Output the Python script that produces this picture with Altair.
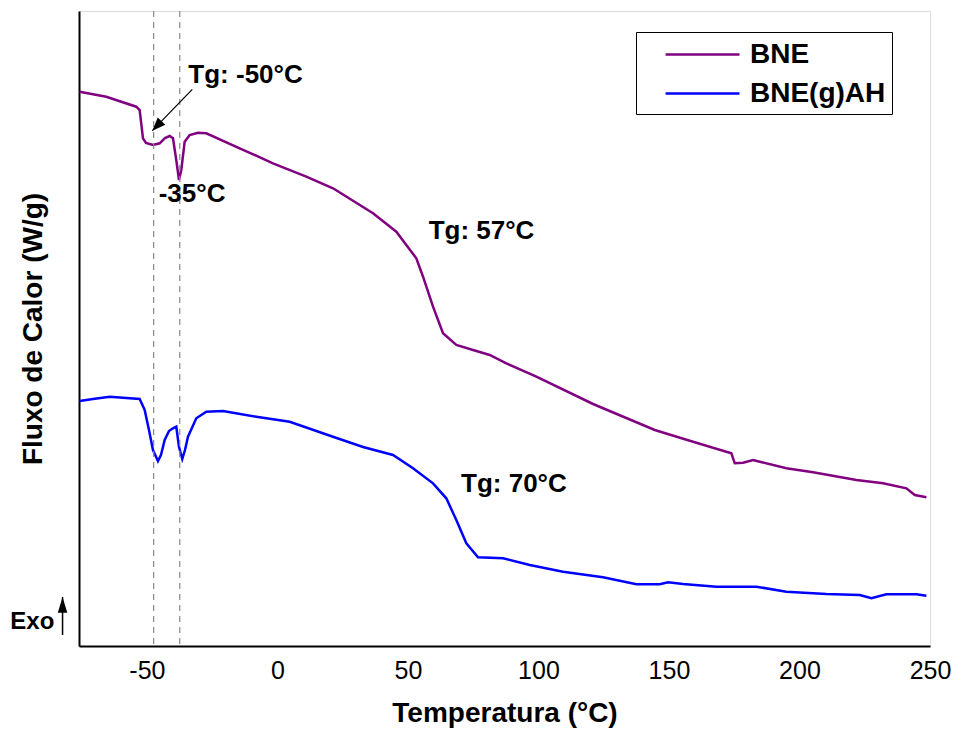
import altair as alt
import pandas as pd

FONT = "Liberation Sans"

# ---- data ----
bne_t = [-75.75, -65.56, -54.06, -52.76, -51.49, -50.34, -47.66, -45.10, -43.07, -41.26,
         -40.00, -38.74, -37.70, -36.82, -35.52, -33.60, -30.42, -27.24, -14.44, -1.69,
         11.07, 21.30, 36.63, 45.56, 53.22, 55.79, 59.62, 63.45, 68.54, 74.94,
         81.34, 87.70, 99.20, 120.92, 144.56, 159.23, 173.91, 175.21, 178.39, 182.22,
         184.79, 194.98, 205.21, 221.80, 232.03, 240.96, 244.18, 248.62]
bne_v = [5.543, 5.493, 5.393, 5.36, 5.077, 5.03, 5.01, 5.027, 5.08, 5.10,
         5.077, 4.86, 4.66, 4.76, 5.043, 5.11, 5.133, 5.127, 4.977, 4.827,
         4.693, 4.577, 4.327, 4.143, 3.877, 3.693, 3.393, 3.127, 3.01, 2.96,
         2.91, 2.827, 2.693, 2.42, 2.16, 2.043, 1.927, 1.827, 1.833, 1.86,
         1.843, 1.777, 1.737, 1.66, 1.627, 1.577, 1.51, 1.487]

ah_t = [-75.75, -70.65, -64.25, -61.72, -52.76, -50.84, -49.20, -47.66, -45.75, -44.60,
        -43.18, -41.53, -40.00, -38.74, -37.70, -36.44, -35.40, -34.25, -31.07, -27.24,
        -20.84, -8.08, 4.71, 21.30, 32.80, 44.29, 51.95, 59.62, 64.71, 68.54,
        72.38, 76.86, 86.44, 96.67, 109.43, 124.75, 137.51, 146.48, 149.66, 155.40,
        168.16, 183.49, 194.98, 210.31, 223.10, 227.55, 233.30, 244.79, 248.62]
ah_v = [2.45, 2.47, 2.493, 2.487, 2.47, 2.36, 2.16, 1.96, 1.85, 1.91,
        2.06, 2.15, 2.177, 2.193, 1.993, 1.87, 1.96, 2.093, 2.277, 2.343,
        2.35, 2.293, 2.243, 2.093, 1.99, 1.91, 1.777, 1.627, 1.477, 1.26,
        1.027, 0.887, 0.877, 0.81, 0.743, 0.687, 0.617, 0.617, 0.637, 0.62,
        0.593, 0.593, 0.543, 0.52, 0.51, 0.477, 0.517, 0.517, 0.503]

series_names = ["BNE", "BNE(g)AH"]
series_colors = ["#800080", "#0000FF"]

x_ticks = [-50, 0, 50, 100, 150, 200, 250]
x_domain = [-76, 250]
y_domain = [0, 6.35]

dashed_t = [-47.4, -37.4]

ann_labels = ["Tg: -50°C", "-35°C", "Tg: 57°C", "Tg: 70°C"]
ann_t = [-12.2, -32.7, 78.2, 90.6]
ann_v = [5.71, 4.52, 4.15, 1.62]

arrow_t = [-32.6, -47.9]
arrow_v = [5.567, 5.153]

exo_label = "Exo"
exo_t, exo_v = -93.9, 0.24
exo_arrow_t = [-82.3, -82.3]
exo_arrow_v = [0.11, 0.49]

# ---- tables ----
curves = pd.concat([
    pd.DataFrame({"t": bne_t, "v": bne_v, "s": series_names[0], "o": range(len(bne_t))}),
    pd.DataFrame({"t": ah_t, "v": ah_v, "s": series_names[1], "o": range(len(ah_t))}),
])
dashes = pd.DataFrame({"t": dashed_t})
ann = pd.DataFrame({"t": ann_t, "v": ann_v, "label": ann_labels})
arrow = pd.DataFrame({"t": arrow_t, "v": arrow_v, "o": [0, 1]})
arrow_head = pd.DataFrame({"t": [arrow_t[1]], "v": [arrow_v[1]]})
exo_txt = pd.DataFrame({"t": [exo_t], "v": [exo_v], "label": [exo_label]})
exo_arrow = pd.DataFrame({"t": exo_arrow_t, "v": exo_arrow_v, "o": [0, 1]})
exo_head = pd.DataFrame({"t": [exo_arrow_t[1]], "v": [exo_arrow_v[1]]})

xs = alt.Scale(domain=x_domain, nice=False, zero=False)
ys = alt.Scale(domain=y_domain, nice=False, zero=False)

X = alt.X("t:Q", scale=xs,
          axis=alt.Axis(title="Temperatura (°C)", values=x_ticks, ticks=False, grid=False,
                        labelExpr="'' + datum.value",
                        labelFontSize=25, labelFont=FONT, labelColor="black", labelPadding=12,
                        titleFontSize=28, titleFont=FONT, titleFontWeight="bold",
                        titleColor="black", titlePadding=16, domainColor="black",
                        domainWidth=2, labelFlush=False))
Y = alt.Y("v:Q", scale=ys,
          axis=alt.Axis(title="Fluxo de Calor (W/g)", labels=False, ticks=False, grid=False,
                        titleFontSize=28, titleFont=FONT, titleFontWeight="bold",
                        titleColor="black", titlePadding=32, domainColor="black",
                        domainWidth=2))
Xp = alt.X("t:Q", scale=xs)
Yp = alt.Y("v:Q", scale=ys)

lines = alt.Chart(curves).mark_line(strokeWidth=2.5, interpolate="linear").encode(
    x=X, y=Y,
    color=alt.Color("s:N", scale=alt.Scale(domain=series_names, range=series_colors),
                    legend=alt.Legend(title=None, orient="none", legendX=557, legendY=21,
                                      strokeColor="black", padding=6,
                                      symbolType="M0.47,0H5.4", symbolSize=900,
                                      symbolStrokeWidth=2.5, labelFontSize=28,
                                      labelFont=FONT, labelFontWeight="bold",
                                      labelColor="black", labelOffset=75, labelLimit=300,
                                      rowPadding=8)),
    order="o:Q",
)

vrules = alt.Chart(dashes).mark_rule(color="#888888", strokeDash=[6, 5], strokeWidth=1.2).encode(
    x=Xp)

texts = alt.Chart(ann).mark_text(font=FONT, fontSize=26, fontWeight="bold", color="black",
                                 align="center", baseline="middle").encode(
    x=Xp, y=Yp, text="label:N")

arr = alt.Chart(arrow).mark_line(color="black", strokeWidth=1.2).encode(x=Xp, y=Yp, order="o:Q")
arr_head = alt.Chart(arrow_head).mark_point(shape="M0,0L-0.4,1L0.4,1Z", filled=True,
                                            color="black", opacity=1, size=700,
                                            angle=224).encode(x=Xp, y=Yp)

exo_t_mark = alt.Chart(exo_txt).mark_text(font=FONT, fontSize=24, fontWeight="bold",
                                          color="black", align="center",
                                          baseline="middle").encode(x=Xp, y=Yp, text="label:N")
exo_line = alt.Chart(exo_arrow).mark_line(color="black", strokeWidth=1.5).encode(
    x=Xp, y=Yp, order="o:Q")
exo_h = alt.Chart(exo_head).mark_point(shape="M0,0L-0.3,1L0.3,1Z", filled=True, color="black",
                                       opacity=1, size=1000, angle=0).encode(x=Xp, y=Yp)

chart = alt.layer(lines, vrules, texts, arr, arr_head, exo_t_mark, exo_line, exo_h).properties(
    width=851, height=635,
    autosize=alt.AutoSizeParams(type="none"),
    padding={"left": 71, "top": 3, "right": 22, "bottom": 90},
).configure_view(stroke="black", strokeWidth=2).configure(background="white")

chart.save("out.html", embed_options={"renderer": "svg", "actions": False})
